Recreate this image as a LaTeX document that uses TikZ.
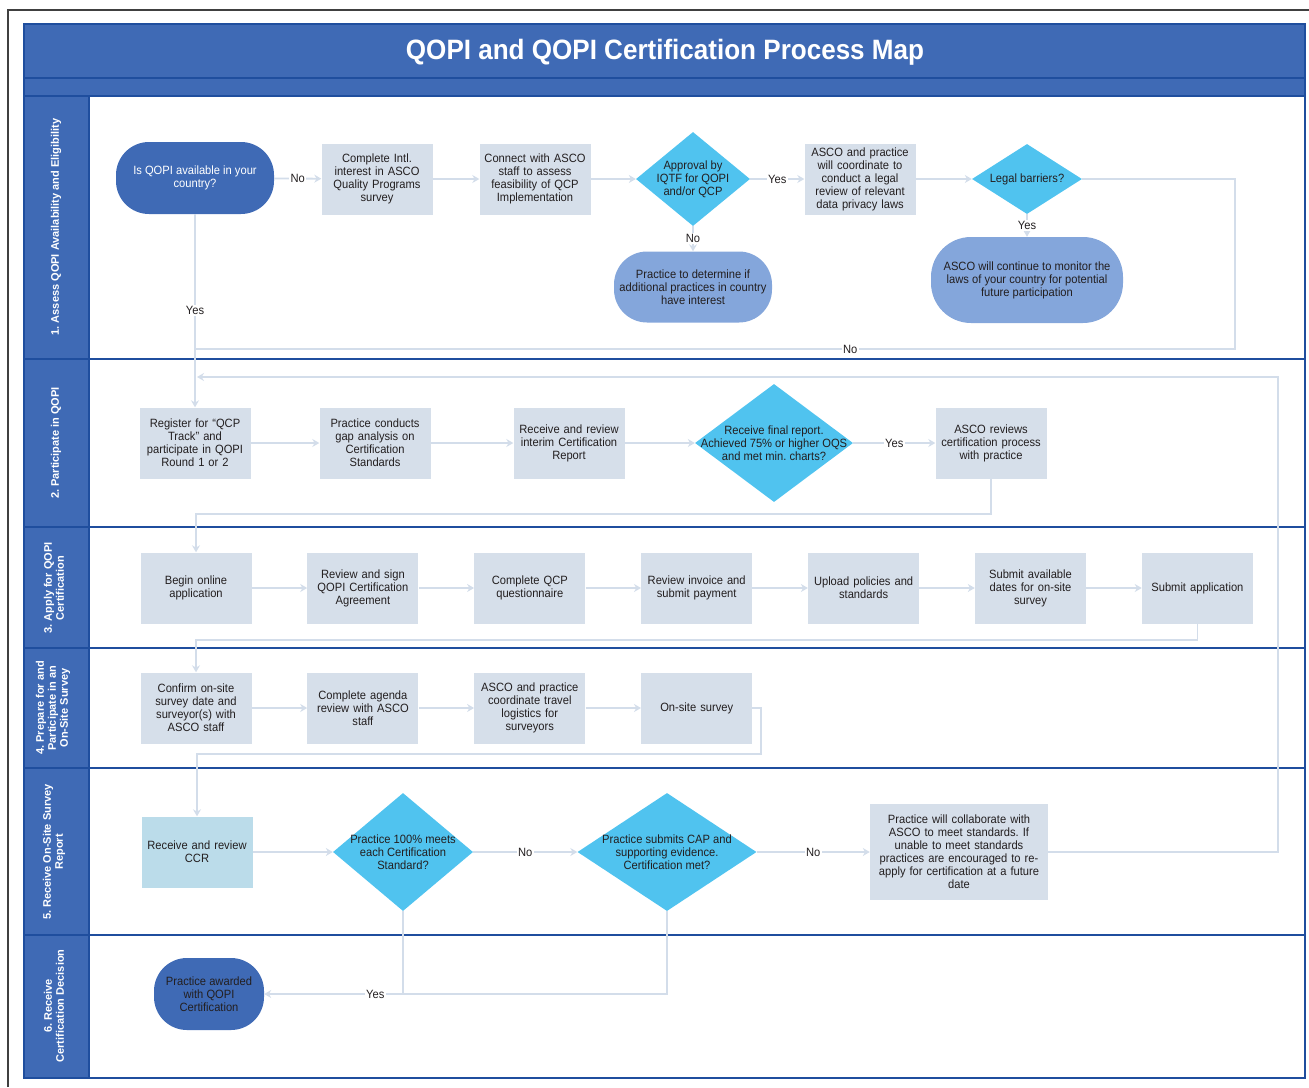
\documentclass[tikz,border=0pt]{standalone}
\usepackage{fontspec}
\setmainfont{Liberation Sans}[FakeStretch=0.93]
\newfontfamily\lanefont{Liberation Sans}
\usepackage{xcolor}
\usetikzlibrary{shapes.geometric, arrows.meta, positioning}
\frenchspacing

\definecolor{hdrblue}{HTML}{3F6AB5}
\definecolor{rulblue}{HTML}{1F4E9E}
\definecolor{boxgray}{HTML}{D6DFEA}
\definecolor{qcyan}{HTML}{50C3EF}
\definecolor{softblue}{HTML}{84A6DB}
\definecolor{ccrblue}{HTML}{BBDCEA}
\definecolor{linkcol}{HTML}{D3DDEA}
\definecolor{inkdark}{HTML}{231F20}

\newcommand{\boxfont}{\fontsize{12}{13}\selectfont}
\newcommand{\titlefont}{\bfseries\fontsize{28}{32}\selectfont}
\newcommand{\lanetype}{\lanefont\bfseries\fontsize{11}{12}\selectfont}

\begin{document}
\begin{tikzpicture}[x=1pt, y=-1pt,
    stepbox/.style={rectangle, fill=boxgray, text width=105pt, inner sep=3pt, minimum height=71pt, align=center, text=inkdark, font=\boxfont},
    terminal/.style={rectangle, rounded corners=33pt, fill=hdrblue, align=center, inner sep=2pt, font=\boxfont},
    outcome/.style={rectangle, rounded corners=33pt, fill=softblue, text=inkdark, align=center, inner sep=2pt, font=\boxfont},
    decision/.style={diamond, fill=qcyan, inner sep=0pt},
    dtext/.style={align=center, text=inkdark, font=\boxfont},
    arrow/.style={-{Stealth[length=7pt, width=8pt]}, draw=linkcol, line width=1.8pt},
    line/.style={draw=linkcol, line width=1.8pt},
    lbl/.style={fill=white, inner sep=1.5pt, text=inkdark, font=\boxfont},
    lanelabel/.style={rotate=90, text=white, align=center, font=\lanetype},
    lanerule/.style={draw=rulblue, line width=2pt},
    node distance=55.5pt
]
\useasboundingbox (0,0) rectangle (1309,1087);

% Page edge
\draw[black!75, line width=1.2pt] (8,1087) -- (8,10) -- (1309,10);

% Header and swimlanes
\fill[hdrblue] (24,24) rectangle (1305,96);
\fill[hdrblue] (24,96) rectangle (89,1078);
\foreach \y in {78,96,359,527,648,768,935}
  \draw[lanerule] (24,\y) -- (1305,\y);
\draw[lanerule] (89,96) -- (89,1078);
\draw[lanerule] (24,24) rectangle (1305,1078);

\node[font=\titlefont, text=white] (title) at (665,52) {QOPI and QOPI Certification Process Map};

% Lane labels
\node[lanelabel] (lane1) at (56,227) {1. Assess QOPI Availability and Eligibility};
\node[lanelabel] (lane2) at (56,443) {2. Participate in QOPI};
\node[lanelabel] (lane3) at (54,588) {3. Apply for QOPI\\Certification};
\node[lanelabel] (lane4) at (53,708) {4. Prepare for and\\Participate in an\\On-Site Survey};
\node[lanelabel] (lane5) at (54,852) {5. Receive On-Site Survey\\Report};
\node[lanelabel] (lane6) at (54,1006) {6. Receive\\Certification Decision};

% Lane 1 nodes
\node[terminal, text=white, minimum width=158pt, minimum height=72pt] (avail) at (195,178) {Is QOPI available in your\\country?};
\node[stepbox] (intl) at (377,179) {Complete Intl.\\interest in ASCO\\Quality Programs\\survey};
\node[stepbox] (connect) at (535,179) {Connect with ASCO\\staff to assess\\feasibility of QCP\\Implementation};
\node[decision, minimum width=114pt, minimum height=94pt, label={[dtext]center:{Approval by\\IQTF for QOPI\\and/or QCP}}] (approval) at (693,179) {};
\node[stepbox] (legalrev) at (860,179) {ASCO and practice\\will coordinate to\\conduct a legal\\review of relevant\\data privacy laws};
\node[decision, minimum width=110pt, minimum height=70pt, label={[dtext]center:{Legal barriers?}}] (legal) at (1027,179) {};
\node[outcome, minimum width=158pt, minimum height=71pt] (determine) at (693,287) {Practice to determine if\\additional practices in country\\have interest};
\node[outcome, rounded corners=40pt, minimum width=192pt, minimum height=86pt] (monitor) at (1027,280) {ASCO will continue to monitor the\\laws of your country for potential\\future participation};

% Lane 2 nodes
\node[stepbox] (register) at (195,443) {Register for “QCP\\Track” and\\participate in QOPI\\Round 1 or 2};
\node[stepbox] (gap) at (375,443) {Practice conducts\\gap analysis on\\Certification\\Standards};
\node[stepbox] (interim) at (569,443) {Receive and review\\interim Certification\\Report};
\node[decision, minimum width=158pt, minimum height=118pt, label={[dtext]center:{Receive final report.\\Achieved 75\% or higher OQS\\and met min. charts?}}] (final) at (774,443) {};
\node[stepbox] (ascorev) at (991,443) {ASCO reviews\\certification process\\with practice};

% Lane 3 nodes
\node[stepbox] (begin) at (196,588) {Begin online\\application};
\node[stepbox, right=of begin] (agreement) {Review and sign\\QOPI Certification\\Agreement};
\node[stepbox, right=of agreement] (questionnaire) {Complete QCP\\questionnaire};
\node[stepbox, right=of questionnaire] (invoice) {Review invoice and\\submit payment};
\node[stepbox, right=of invoice] (upload) {Upload policies and\\standards};
\node[stepbox, right=of upload] (dates) {Submit available\\dates for on-site\\survey};
\node[stepbox, right=of dates] (submit) {Submit application};

% Lane 4 nodes
\node[stepbox] (confirm) at (196,708) {Confirm on-site\\survey date and\\surveyor(s) with\\ASCO staff};
\node[stepbox, right=of confirm] (agenda) {Complete agenda\\review with ASCO\\staff};
\node[stepbox, right=of agenda] (travel) {ASCO and practice\\coordinate travel\\logistics for\\surveyors};
\node[stepbox, right=of travel] (onsite) {On-site survey};

% Lane 5 nodes
\node[stepbox, fill=ccrblue] (ccr) at (197,852) {Receive and review\\CCR};
\node[decision, minimum width=140pt, minimum height=118pt, label={[dtext]center:{Practice 100\% meets\\each Certification\\Standard?}}] (meets) at (403,852) {};
\node[decision, minimum width=179pt, minimum height=118pt, label={[dtext]center:{Practice submits CAP and\\supporting evidence.\\Certification met?}}] (cap) at (667,852) {};
\node[stepbox, text width=172pt, minimum height=96pt] (collab) at (959,852) {Practice will collaborate with\\ASCO to meet standards. If\\unable to meet standards\\practices are encouraged to re-\\apply for certification at a future\\date};

% Lane 6 nodes
\node[terminal, text=inkdark, minimum width=110pt, minimum height=72pt] (awarded) at (209,994) {Practice awarded\\with QOPI\\Certification};

% Bend points
\coordinate (noTurn) at (1235,349);
\coordinate (noJoin) at (195,349);
\coordinate (loopR) at (1278,377);
\coordinate (loopL) at (197,377);
\coordinate (bendA) at (196,514);
\coordinate (bendB) at (196,640);
\coordinate (bendC) at (761,754);
\coordinate (yesJoin) at (403,994);

% Connections lane 1
\draw[arrow] (avail) -- node[lbl]{No} (intl);
\draw[arrow] (intl) -- (connect);
\draw[arrow] (connect) -- (approval);
\draw[arrow] (approval) -- node[lbl]{Yes} (legalrev);
\draw[arrow] (approval) -- node[lbl]{No} (determine);
\draw[arrow] (legalrev) -- (legal);
\draw[arrow] (legal) -- node[lbl]{Yes} (monitor);
\draw[line] (legal.east) -| (noTurn) -- node[lbl, pos=0.37]{No} (noJoin);
\draw[arrow] (avail.south) -- node[lbl]{Yes} (register.north);

% Connections lane 2
\draw[arrow] (register) -- (gap);
\draw[arrow] (gap) -- (interim);
\draw[arrow] (interim) -- (final);
\draw[arrow] (final) -- node[lbl]{Yes} (ascorev);
\draw[arrow] (ascorev.south) |- (bendA) -- (begin.north);

% Connections lane 3
\draw[arrow] (begin) -- (agreement);
\draw[arrow] (agreement) -- (questionnaire);
\draw[arrow] (questionnaire) -- (invoice);
\draw[arrow] (invoice) -- (upload);
\draw[arrow] (upload) -- (dates);
\draw[arrow] (dates) -- (submit);
\draw[arrow] (submit.south) |- (bendB) -- (confirm.north);

% Connections lane 4
\draw[arrow] (confirm) -- (agenda);
\draw[arrow] (agenda) -- (travel);
\draw[arrow] (travel) -- (onsite);
\draw[arrow] (onsite.east) -| (bendC) -| (ccr.north);

% Connections lane 5 and 6
\draw[arrow] (ccr) -- (meets);
\draw[arrow] (meets) -- node[lbl]{No} (cap);
\draw[arrow] (cap) -- node[lbl]{No} (collab);
\draw[arrow] (collab.east) -| (loopR) -- (loopL);
\draw[line] (cap.south) |- (yesJoin);
\draw[arrow] (meets.south) |- node[lbl, pos=0.6]{Yes} (awarded.east);

\end{tikzpicture}
\end{document}
